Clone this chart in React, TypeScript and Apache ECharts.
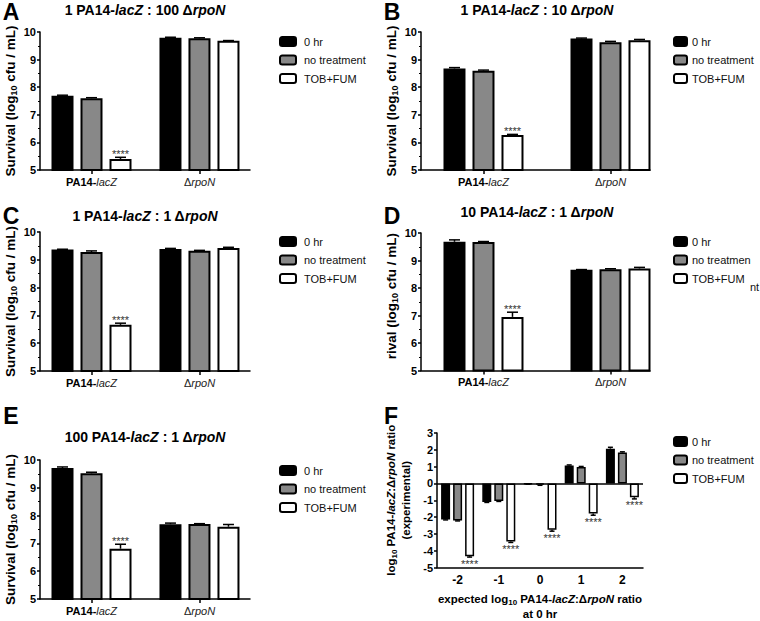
import React, { useEffect, useRef } from 'react';
import * as echarts from 'echarts';

const FONT = '"Liberation Sans", Arial, Helvetica, sans-serif';

const seriesNames = ['0 hr', 'no treatment', 'TOB+FUM'];
const strainCategories = ['PA14-lacZ', 'ΔrpoN'];
const ratioCategories = ['-2', '-1', '0', '1', '2'];

// Panel A: 1 PA14-lacZ : 100 ΔrpoN
const aZeroHr = [7.69, 9.79];
const aZeroHrErr = [0.02, 0.02];
const aNoTreat = [7.6, 9.77];
const aNoTreatErr = [0.02, 0.02];
const aTobFum = [5.4, 9.68];
const aTobFumErr = [0.06, 0.01];
const aStars = [1, 0];

// Panel B: 1 PA14-lacZ : 10 ΔrpoN
const bZeroHr = [8.68, 9.76];
const bZeroHrErr = [0.03, 0.02];
const bNoTreat = [8.6, 9.63];
const bNoTreatErr = [0.02, 0.03];
const bTobFum = [6.27, 9.7];
const bTobFumErr = [0.02, 0.03];
const bStars = [1, 0];

// Panel C: 1 PA14-lacZ : 1 ΔrpoN
const cZeroHr = [9.37, 9.39];
const cZeroHrErr = [0.01, 0.02];
const cNoTreat = [9.28, 9.33];
const cNoTreatErr = [0.04, 0.01];
const cTobFum = [6.66, 9.42];
const cTobFumErr = [0.06, 0.03];
const cStars = [1, 0];

// Panel D: 10 PA14-lacZ : 1 ΔrpoN
const dZeroHr = [9.68, 8.66];
const dZeroHrErr = [0.07, 0.01];
const dNoTreat = [9.67, 8.68];
const dNoTreatErr = [0.02, 0.02];
const dTobFum = [6.95, 8.71];
const dTobFumErr = [0.17, 0.04];
const dStars = [1, 0];

// Panel E: 100 PA14-lacZ : 1 ΔrpoN
const eZeroHr = [9.71, 7.69];
const eZeroHrErr = [0.04, 0.04];
const eNoTreat = [9.52, 7.7];
const eNoTreatErr = [0.04, 0.01];
const eTobFum = [6.81, 7.6];
const eTobFumErr = [0.16, 0.08];
const eStars = [1, 0];

// Panel F: log10 ratio
const fZeroHr = [-2.14, -1.11, -0.04, 1.06, 2.07];
const fZeroHrErr = [0.03, 0.02, 0.01, 0.04, 0.08];
const fNoTreat = [-2.21, -1.05, -0.08, 0.98, 1.84];
const fNoTreatErr = [0.02, 0.02, 0.03, 0.03, 0.04];
const fTobFum = [-4.33, -3.46, -2.76, -1.79, -0.82];
const fTobFumErr = [0.05, 0.05, 0.08, 0.1, 0.1];
const fStars = [1, 1, 1, 1, 1];

const survivalTicks = { min: 5, max: 10, interval: 1 };
const ratioTicks = { min: -5, max: 3, interval: 1 };

const titles = [
  '{b|1 PA14-}{bi|lacZ}{b| : 100 Δ}{bi|rpoN}',
  '{b|1 PA14-}{bi|lacZ}{b| : 10 Δ}{bi|rpoN}',
  '{b|1 PA14-}{bi|lacZ}{b| : 1 Δ}{bi|rpoN}',
  '{b|10 PA14-}{bi|lacZ}{b| : 1 Δ}{bi|rpoN}',
  '{b|100 PA14-}{bi|lacZ}{b| : 1 Δ}{bi|rpoN}',
];

const panelData = [
  { vals: [aZeroHr, aNoTreat, aTobFum], errs: [aZeroHrErr, aNoTreatErr, aTobFumErr], stars: aStars },
  { vals: [bZeroHr, bNoTreat, bTobFum], errs: [bZeroHrErr, bNoTreatErr, bTobFumErr], stars: bStars },
  { vals: [cZeroHr, cNoTreat, cTobFum], errs: [cZeroHrErr, cNoTreatErr, cTobFumErr], stars: cStars },
  { vals: [dZeroHr, dNoTreat, dTobFum], errs: [dZeroHrErr, dNoTreatErr, dTobFumErr], stars: dStars },
  { vals: [eZeroHr, eNoTreat, eTobFum], errs: [eZeroHrErr, eNoTreatErr, eTobFumErr], stars: eStars },
  { vals: [fZeroHr, fNoTreat, fTobFum], errs: [fZeroHrErr, fNoTreatErr, fTobFumErr], stars: fStars },
];

// layout (positions only). xr = horizontal extent of the strain axis in category units
const narrowX = { min: -0.477, max: 1.468 };
const wideX = { min: -0.492, max: 1.311 };
const layouts: any[] = [
  { grid: { left: 40, top: 32, width: 210, height: 138 }, xr: narrowX, legend: { left: 279, top: 36, w: 16, pad: 3 }, title: [145, 10], letter: [11, 0] },
  { grid: { left: 421, top: 32, width: 229, height: 138 }, xr: wideX, legend: { left: 673, top: 36, w: 13, pad: 0 }, title: [537, 10], letter: [392, 0] },
  { grid: { left: 40, top: 232, width: 210, height: 139 }, xr: narrowX, legend: { left: 279, top: 236, w: 16, pad: 3 }, title: [145, 216], letter: [11, 204] },
  { grid: { left: 421, top: 233, width: 229, height: 137.5 }, xr: wideX, legend: { left: 673, top: 236, w: 13, pad: 0 }, title: [537, 212], letter: [392, 204] },
  { grid: { left: 40, top: 460, width: 210, height: 139 }, xr: narrowX, legend: { left: 279, top: 465, w: 16, pad: 3 }, title: [145, 437], letter: [11, 404] },
  { grid: { left: 437, top: 433, width: 206, height: 138 }, xr: null, legend: { left: 673, top: 436, w: 13, pad: 0 }, title: null, letter: [391, 404] },
];

const barColors = ['#000000', '#888888', '#ffffff'];

const txt = (size: number, extra: any = {}) => ({ fontFamily: FONT, fontSize: size, color: '#000', ...extra });

const nameRich = {
  t: txt(13.5, { fontWeight: 'bold', lineHeight: 16 }),
  ti: txt(13.5, { fontWeight: 'bold', fontStyle: 'italic', lineHeight: 16 }),
  s: txt(9, { fontWeight: 'bold', lineHeight: 10, verticalAlign: 'bottom' }),
};
const fNameRich = {
  t: txt(11.5, { fontWeight: 'bold', lineHeight: 15 }),
  ti: txt(11.5, { fontWeight: 'bold', fontStyle: 'italic', lineHeight: 15 }),
  s: txt(8, { fontWeight: 'bold', lineHeight: 9, verticalAlign: 'bottom' }),
};
const titleRich = {
  b: txt(14, { fontWeight: 'bold' }),
  bi: txt(14, { fontWeight: 'bold', fontStyle: 'italic' }),
};
const catRich = {
  b: txt(11, { fontWeight: 'bold' }),
  i: txt(11, { fontStyle: 'italic', color: '#222' }),
  d: txt(11, { color: '#222' }),
};

function buildOption() {
  const grid: any[] = [];
  const xAxis: any[] = [];
  const yAxis: any[] = [];
  const series: any[] = [];
  const legend: any[] = [];
  const graphic: any[] = [];

  layouts.forEach((lay, idx) => {
    const isF = idx === 5;
    const barW = isF ? 9 : 22;
    const gapPx = isF ? 3 : 7;
    const capW = isF ? 5 : 11;
    const pd = panelData[idx];
    grid.push({ ...lay.grid, containLabel: false });

    if (isF) {
      xAxis.push({
        type: 'category',
        gridIndex: idx,
        data: ratioCategories,
        axisLine: { onZero: false, lineStyle: { color: '#000', width: 1.5 } },
        axisTick: { alignWithLabel: true, length: 4, lineStyle: { color: '#000', width: 1.5 } },
        axisLabel: { interval: 0, margin: 6, fontFamily: FONT, fontSize: 12, fontWeight: 'bold', color: '#000' },
        name: '{t|expected log}{s|10}{t| PA14-}{ti|lacZ}{t|:Δ}{ti|rpoN}{t| ratio}\n{t|at 0 hr}',
        nameLocation: 'middle',
        nameGap: 24,
        nameTextStyle: { rich: fNameRich },
      });
    } else {
      const catIdx = strainCategories.map((_, i) => i);
      xAxis.push({
        type: 'value',
        gridIndex: idx,
        min: lay.xr.min,
        max: lay.xr.max,
        splitLine: { show: false },
        axisLine: { onZero: false, lineStyle: { color: '#000', width: 1.5 } },
        axisTick: { show: true, customValues: catIdx, length: 4, lineStyle: { color: '#000', width: 1.5 } },
        axisLabel: {
          customValues: catIdx,
          margin: 6,
          formatter: (v: number) => {
            const c = strainCategories[Math.round(v)];
            return c === 'PA14-lacZ' ? '{b|PA14-}{i|lacZ}' : '{d|Δ}{i|rpoN}';
          },
          rich: catRich,
        },
      });
    }

    const ticks = isF ? ratioTicks : survivalTicks;
    yAxis.push({
      type: 'value',
      gridIndex: idx,
      min: ticks.min,
      max: ticks.max,
      interval: ticks.interval,
      splitLine: { show: false },
      axisLine: { show: true, onZero: false, lineStyle: { color: '#000', width: 1.5 } },
      axisTick: { show: true, length: 3, lineStyle: { color: '#000', width: 1.5 } },
      minorTick: { show: !isF, splitNumber: 2, length: 2, lineStyle: { color: '#000', width: 1 } },
      axisLabel: { margin: 4, fontFamily: FONT, fontSize: 11, fontWeight: 'bold', color: '#000' },
      name:
        idx === 3
          ? ''
          : isF
          ? '{t|log}{s|10}{t| PA14-}{ti|lacZ}{t|:Δ}{ti|rpoN}{t| ratio}\n{t|(experimental)}'
          : '{t|Survival (log}{s|10}{t| cfu / mL)}',
      nameLocation: 'middle',
      nameRotate: 90,
      nameGap: isF ? 24 : 22,
      nameTextStyle: { rich: isF ? fNameRich : nameRich },
    });

    pd.vals.forEach((vals, si) => {
      const s: any = {
        type: 'bar',
        name: seriesNames[si],
        xAxisIndex: idx,
        yAxisIndex: idx,
        data: isF ? vals : vals.map((v, ci) => [ci, v]),
        barWidth: barW,
        barGap: `${(gapPx / barW) * 100}%`,
        itemStyle: { color: barColors[si], borderColor: '#000', borderWidth: isF ? 1.5 : 2 },
        emphasis: { disabled: true },
        z: 2,
      };
      if (isF && si === 0) {
        s.markLine = {
          silent: true,
          symbol: ['none', 'none'],
          label: { show: false },
          lineStyle: { color: '#000', width: 1.5, type: 'solid' },
          data: [{ yAxis: 0 }],
        };
      }
      series.push(s);
    });

    const rows: number[][] = [];
    pd.vals.forEach((vals, si) => {
      vals.forEach((v, ci) => {
        rows.push([ci, v, pd.errs[si][ci], si, si === 2 ? pd.stars[ci] : 0]);
      });
    });
    series.push({
      type: 'custom',
      xAxisIndex: idx,
      yAxisIndex: idx,
      silent: true,
      z: 5,
      encode: { x: 0, y: 1 },
      data: rows,
      renderItem: (params: any, api: any) => {
        const ci = api.value(0);
        const v = api.value(1);
        const e = api.value(2);
        const si = api.value(3);
        const st = api.value(4);
        const p0 = api.coord([ci, v]);
        const end = v >= 0 ? v + e : v - e;
        const p1 = api.coord([ci, end]);
        const x = p0[0] + (si - 1) * (barW + gapPx);
        const children: any[] = [
          { type: 'line', shape: { x1: x, y1: p0[1], x2: x, y2: p1[1] }, style: { stroke: '#000', lineWidth: 1.5 } },
          { type: 'line', shape: { x1: x - capW / 2, y1: p1[1], x2: x + capW / 2, y2: p1[1] }, style: { stroke: '#000', lineWidth: 1.5 } },
        ];
        if (st) {
          const up = v >= 0;
          children.push({
            type: 'text',
            x,
            y: up ? p1[1] + 2 : p1[1] + 1,
            style: {
              text: '****',
              fill: '#333',
              font: `11px ${FONT}`,
              align: 'center',
              verticalAlign: up ? 'bottom' : 'top',
            },
          });
        }
        return { type: 'group', children };
      },
    });

    legend.push({
      left: lay.legend.left,
      top: lay.legend.top,
      orient: 'vertical',
      padding: 0,
      itemWidth: lay.legend.w,
      itemHeight: 9,
      itemGap: 7.5,
      selectedMode: false,
      data: seriesNames,
      formatter: idx === 3 ? (n: string) => (n === 'no treatment' ? 'no treatmen' : n) : undefined,
      textStyle: { fontFamily: FONT, fontSize: 11, color: '#111', padding: [0, 0, 0, lay.legend.pad] },
    });

    graphic.push({
      type: 'text',
      x: lay.letter[0],
      y: lay.letter[1],
      style: { text: 'ABCDEF'[idx], font: `bold 23px ${FONT}`, fill: '#000', align: 'center', verticalAlign: 'top' },
    });
    if (lay.title) {
      graphic.push({
        type: 'text',
        x: lay.title[0],
        y: lay.title[1],
        style: { text: titles[idx], rich: titleRich, align: 'center', verticalAlign: 'middle' },
      });
    }
  });

  // panel D: y-axis label as it appears (cut short)
  graphic.push({
    type: 'text',
    x: 391,
    y: 233,
    rotation: Math.PI / 2,
    style: {
      text: '{t|rival (log}{s|10}{t| cfu / mL)}',
      rich: nameRich,
      align: 'right',
      verticalAlign: 'middle',
    },
  });
  graphic.push({
    type: 'text',
    x: 750,
    y: 287,
    style: { text: 'nt', font: `11px ${FONT}`, fill: '#111', align: 'left', verticalAlign: 'middle' },
  });

  return {
    animation: false,
    backgroundColor: '#ffffff',
    textStyle: { fontFamily: FONT },
    grid,
    xAxis,
    yAxis,
    series,
    legend,
    graphic,
  };
}

export default function App() {
  const ref = useRef<HTMLDivElement>(null);
  useEffect(() => {
    if (!ref.current) return;
    const chart = echarts.init(ref.current, undefined, { renderer: 'svg' });
    chart.setOption(buildOption() as any);
    return () => chart.dispose();
  }, []);
  return <div ref={ref} style={{ position: 'fixed', left: 0, top: 0, width: 760, height: 621 }} />;
}
